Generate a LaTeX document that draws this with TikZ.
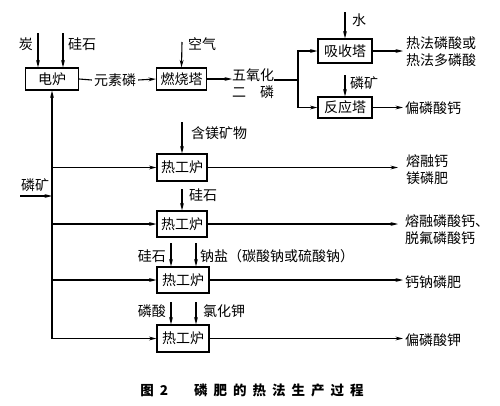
\documentclass[tikz,border=0pt]{standalone}
\usepackage{fontspec}
\setmainfont{Noto Sans CJK SC}
\usetikzlibrary{arrows.meta}
\newcommand{\capgap}{\hspace{6pt}}
\begin{document}
\begin{tikzpicture}[x=1pt,y=-1pt,
  box/.style={draw,line width=1.1pt,inner sep=0pt,font=\fontsize{14}{14}\selectfont},
  lbl/.style={inner sep=0pt,font=\fontsize{14}{17}\selectfont},
  arr/.style={line width=1.1pt,-{Stealth[length=7.5pt,width=3.8pt]}},
  ln/.style={line width=1.1pt}]
\useasboundingbox[fill=white] (0,0) rectangle (500,405);
% boxes
\node[box,minimum width=53pt,minimum height=22pt] (dl) at (52,79) {电炉};
\node[box,minimum width=50pt,minimum height=22pt] (rs) at (181.5,79) {燃烧塔};
\node[box,minimum width=54pt,minimum height=24pt] (xs) at (345,51) {吸收塔};
\node[box,minimum width=54pt,minimum height=21pt] (fy) at (345,107.5) {反应塔};
\node[box,minimum width=50pt,minimum height=27pt] (r1) at (182,167.5) {热工炉};
\node[box,minimum width=50pt,minimum height=26pt] (r2) at (182,224) {热工炉};
\node[box,minimum width=52pt,minimum height=26pt] (r3) at (183,280) {热工炉};
\node[box,minimum width=52pt,minimum height=27pt] (r4) at (183,338.5) {热工炉};
% electric furnace inputs
\coordinate (c1) at (38,33);
\draw[arr] (c1) -- (c1 |- dl.north);
\node[lbl,anchor=east] (t1) at (33,44) {炭};
\coordinate (c2) at (63,33);
\draw[arr] (c2) -- (c2 |- dl.north);
\node[lbl,anchor=west] (t2) at (68,44) {硅石};
% elemental phosphorus
\node[lbl,inner sep=2pt] (ysl) at (115,80) {元素磷};
\draw[ln] (dl.east) -- (ysl.west);
\draw[arr] (ysl.east) -- (rs.west);
\coordinate (c3) at (182,42);
\draw[arr] (c3) -- (rs.north);
\node[lbl,anchor=west] (t3) at (188,44) {空气};
% P2O5
\node[lbl,align=left,anchor=west] (p) at (232,84) {五氧化\\二\hspace{14pt}磷};
\draw[arr] (rs.east) -- (p.west |- rs.east);
\coordinate (spl) at (298,80);
\draw[ln] (p.east |- spl) -- (spl);
\draw[arr] (spl) |- (xs.west);
\draw[arr] (spl) |- (fy.west);
\coordinate (w) at (345,12);
\draw[arr] (w) -- (xs.north);
\node[lbl,anchor=west] (tw) at (352,20) {水};
\coordinate (m) at (345,75);
\draw[arr] (m) -- (fy.north);
\node[lbl,anchor=west] (tm) at (350,83) {磷矿};
\coordinate (o1) at (403,51);
\draw[arr] (xs.east) -- (o1);
\node[lbl,anchor=west,align=left] (to1) at (406,52) {热法磷酸或\\热法多磷酸};
\coordinate (o2) at (403,107.5);
\draw[arr] (fy.east) -- (o2);
\node[lbl,anchor=west] (to2) at (405,108) {偏磷酸钙};
% trunk
\draw[arr] (dl.south |- r4.west) -- (dl.south);
\foreach \r in {r1,r2,r3,r4}{\draw[arr] (dl.south |- \r.west) -- (\r.west);}
\coordinate (pk) at (20,196);
\draw[arr] (pk) -- (pk -| dl.south);
\node[lbl] (tpk) at (35,185) {磷矿};
% row 1
\coordinate (a1) at (182,122);
\draw[arr] (a1) -- (r1.north);
\node[lbl,anchor=west] (ta1) at (191,133) {含镁矿物};
\coordinate (e1) at (398,167.5);
\draw[arr] (r1.east) -- (e1);
\node[lbl,anchor=west,align=left] (te1) at (406,170) {熔融钙\\镁磷肥};
% row 2
\coordinate (a2) at (182,189);
\draw[arr] (a2) -- (r2.north);
\node[lbl,anchor=west] (ta2) at (189,195) {硅石};
\coordinate (e2) at (398,224);
\draw[arr] (r2.east) -- (e2);
\node[lbl,anchor=west,align=left] (te2) at (405,230) {熔融磷酸钙、\\脱氟磷酸钙};
% row 3
\coordinate (a3) at (171,243);
\draw[arr] (a3) -- (a3 |- r3.north);
\coordinate (b3) at (196,243);
\draw[arr] (b3) -- (b3 |- r3.north);
\node[lbl,anchor=east] (ta3) at (166,256) {硅石};
\node[lbl,anchor=west] (tb3) at (200,256) {钠盐（碳酸钠或硫酸钠）};
\coordinate (e3) at (403,280);
\draw[arr] (r3.east) -- (e3);
\node[lbl,anchor=west] (te3) at (405,282) {钙钠磷肥};
% row 4
\coordinate (a4) at (171,302);
\draw[arr] (a4) -- (a4 |- r4.north);
\coordinate (b4) at (196,302);
\draw[arr] (b4) -- (b4 |- r4.north);
\node[lbl,anchor=east] (ta4) at (166,311) {磷酸};
\node[lbl,anchor=west] (tb4) at (203,311) {氯化钾};
\coordinate (e4) at (403,338.5);
\draw[arr] (r4.east) -- (e4);
\node[lbl,anchor=west] (te4) at (405,340) {偏磷酸钾};
% caption
\node[inner sep=0pt,font=\fontsize{13.5}{13.5}\selectfont\bfseries] (cap) at (252,390)
  {图\capgap 2\hspace{26pt}磷\capgap 肥\capgap 的\capgap 热\capgap 法\capgap 生\capgap 产\capgap 过\capgap 程};
\end{tikzpicture}
\end{document}
